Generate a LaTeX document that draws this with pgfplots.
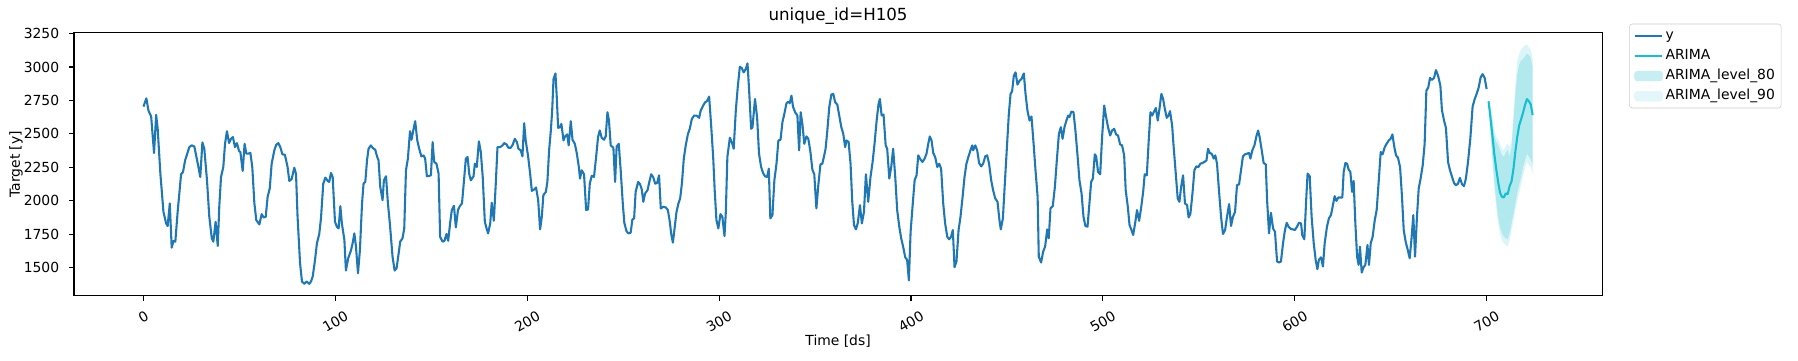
\documentclass[border=0pt]{standalone}
\usepackage{fontspec}
\setmainfont{DejaVu Sans}
\usepackage{graphicx}
\usepackage{pgfplots}
\usepackage{pgfplotstable}
\pgfplotsset{compat=1.18}
\usepgfplotslibrary{fillbetween}
\definecolor{c1}{HTML}{1F77B4}
\definecolor{ccyan}{HTML}{17BECF}
\definecolor{l80}{RGB}{199,238,243}
\definecolor{l90}{RGB}{227,246,249}
\pgfplotsset{
 mylineleg/.style={legend image code/.code={\draw[##1] (0pt,0pt) -- (20pt,0pt);}},
 myarealeg/.style={legend image code/.code={\fill[##1] (0pt,-3.5pt) rectangle (20pt,3.5pt);}},
}
\pgfplotstableread{
t v
0 2704
1.5 2766
2.6 2674
4.0 2630
5.5 2357
6.6 2642
7.4 2538
8.8 2203
10.4 1917
11.8 1830
12.6 1811
13.7 1980
14.7 1649
15.6 1699
16.6 1694
17.8 1917
19.6 2198
20.6 2215
21.7 2302
23.9 2401
25.1 2414
26.5 2406
28.3 2277
29.6 2178
30.7 2436
31.7 2389
33.1 2153
34.3 1880
35.6 1719
36.4 1694
37.6 1843
38.7 1662
39.5 1955
40.4 2178
41.6 2252
42.5 2426
43.5 2520
44.6 2431
45.6 2463
46.6 2476
47.7 2401
48.7 2431
49.8 2372
50.5 2364
51.7 2223
52.7 2426
53.6 2352
54.6 2352
55.7 2359
56.7 2252
57.8 1980
58.8 1855
60.4 1823
61.6 1900
62.6 1875
63.7 1880
64.7 2029
65.8 2091
66.8 2277
68.2 2377
69.2 2419
70.3 2431
71.3 2401
72.4 2347
73.7 2344
75.1 2252
76.0 2148
77.2 2161
78.6 2247
79.5 2200
80.3 1880
81.6 1533
82.6 1396
83.8 1379
85.0 1396
86.4 1379
87.3 1396
88.2 1433
89.4 1558
90.4 1682
91.6 1751
92.5 1868
93.7 2128
94.8 2173
96.0 2148
96.8 2141
97.7 2208
98.6 2178
99.8 1843
100.8 1806
101.7 1793
102.6 1960
103.4 1830
104.7 1707
105.5 1478
106.7 1570
108.1 1627
109.0 1682
109.9 1756
110.7 1662
111.8 1458
112.8 1632
113.9 1980
114.7 2128
115.6 2141
116.5 2302
117.3 2389
118.5 2414
119.4 2396
120.8 2381
121.7 2332
122.5 2302
123.4 2104
124.6 2004
125.3 2153
126.4 2183
127.4 1980
128.4 1830
129.8 1582
130.9 1478
131.9 1495
133.0 1607
133.8 1694
135.0 1719
135.9 1793
136.8 2228
137.8 2315
138.9 2520
139.7 2456
140.6 2525
141.6 2595
142.7 2451
143.7 2389
144.8 2332
146.0 2339
146.8 2315
147.7 2183
148.9 2186
149.8 2190
150.7 2439
151.5 2290
152.7 2277
153.8 2203
154.6 1731
155.9 1694
156.9 1701
157.9 1751
158.8 1701
159.9 1843
160.7 1930
161.8 1962
162.8 1801
163.9 1930
164.9 1960
166.0 1980
167.2 2178
168.0 2315
168.9 2327
169.8 2198
170.6 2153
172.0 2183
172.7 2277
173.7 2252
174.8 2444
175.8 2364
176.8 2178
177.9 1843
178.8 1793
179.6 1756
180.7 1830
181.5 1985
182.6 1850
183.6 2128
184.5 2401
185.9 2401
187.1 2414
188.0 2431
189.2 2421
190.2 2396
191.4 2396
192.5 2421
193.5 2463
194.6 2439
195.4 2389
196.6 2377
197.5 2332
198.4 2580
199.2 2451
200.5 2327
201.5 2203
202.4 2074
203.6 2084
204.6 2099
205.7 2004
206.7 1786
207.6 1880
208.4 2042
209.7 2066
210.5 2141
211.4 2377
212.3 2525
213.0 2674
213.7 2910
214.7 2952
215.4 2774
216.1 2545
217.1 2550
217.8 2575
218.9 2451
219.7 2481
220.8 2496
221.6 2414
222.7 2595
223.6 2456
224.8 2426
225.8 2357
226.9 2252
227.5 2166
228.4 2228
229.6 2198
230.7 1930
231.7 1935
232.6 2128
233.6 2186
234.8 2178
235.9 2327
236.9 2476
237.8 2525
238.8 2471
240.0 2456
240.9 2481
241.8 2662
242.6 2600
243.5 2414
244.9 2396
245.8 2141
246.6 2406
247.7 2426
248.7 2228
249.8 1980
250.6 1835
251.7 1773
252.7 1756
253.9 1761
254.8 1860
255.7 1868
256.5 2066
257.8 2141
258.8 2123
259.7 2084
260.5 1992
261.4 2054
262.7 2079
263.5 2133
264.6 2198
265.6 2178
266.7 2128
267.7 2133
268.7 2190
269.6 1942
270.8 1955
272.2 1950
273.3 1930
274.3 1843
275.0 1756
275.9 1687
276.7 1781
277.8 1917
278.8 1980
279.7 2017
280.6 2128
281.6 2315
282.6 2414
283.7 2496
284.7 2538
285.8 2612
287.0 2637
288.2 2637
289.6 2620
290.4 2674
291.7 2712
292.7 2736
293.6 2744
294.8 2779
295.8 2575
296.9 2327
297.7 2079
298.6 1855
299.6 1793
300.7 1900
301.7 1880
302.8 1736
303.5 1917
304.3 2327
305.6 2471
306.6 2439
307.6 2389
308.7 2674
309.7 2848
310.8 3002
311.8 2992
312.8 2960
313.9 2985
314.8 3027
315.6 2836
316.7 2538
317.4 2550
318.7 2761
319.8 2625
320.8 2352
321.9 2252
322.9 2208
323.9 2183
325.0 2178
325.9 2240
326.7 1868
327.8 1893
328.8 2153
329.9 2277
330.9 2451
332.0 2456
333.0 2587
334.0 2650
335.1 2729
336.1 2741
336.8 2729
337.7 2786
338.5 2704
339.6 2662
340.8 2637
341.7 2377
342.5 2662
343.4 2575
344.4 2426
345.5 2481
346.5 2463
347.6 2364
348.6 2233
349.6 2198
350.7 1942
351.7 2116
352.8 2272
353.8 2277
354.6 2327
355.5 2389
356.4 2525
357.4 2699
358.5 2794
359.5 2799
360.5 2736
361.6 2719
362.6 2637
363.7 2550
364.7 2501
365.7 2401
366.4 2451
367.5 2439
368.5 2277
369.4 1992
370.3 1818
371.3 1786
372.3 1835
373.4 1967
374.4 1830
375.5 1917
376.5 2198
377.7 1992
378.9 2178
380.0 2290
381.0 2426
382.1 2600
383.1 2724
383.8 2761
384.7 2637
385.7 2645
386.8 2414
387.6 2389
388.7 2166
389.7 2252
390.7 2389
391.8 2178
392.8 1930
393.9 1806
394.9 1719
395.9 1657
397.0 1577
398.0 1558
398.9 1404
399.8 1768
400.8 1955
401.9 2153
402.9 2190
403.8 2339
405.0 2307
406.0 2290
407.1 2315
408.1 2352
409.0 2426
409.8 2481
410.7 2451
411.6 2357
412.6 2327
413.7 2252
414.7 2277
415.7 2240
416.8 1980
417.8 1830
418.9 1731
419.9 1712
420.9 1731
421.8 1781
422.7 1503
423.7 1545
424.8 1781
425.8 1880
426.9 2029
427.9 2178
428.9 2277
430.0 2332
431.0 2377
431.9 2414
432.4 2377
433.5 2414
434.5 2377
435.5 2282
436.6 2257
437.6 2277
438.7 2332
439.7 2339
440.7 2277
441.8 2153
442.8 2079
443.9 2017
445.1 1992
446.1 1855
446.8 1786
447.9 1868
448.9 2128
450.0 2401
451.0 2650
451.9 2799
452.7 2818
453.6 2935
454.5 2960
455.5 2868
456.6 2898
457.6 2910
458.8 2952
459.7 2799
460.7 2674
461.8 2600
462.8 2630
463.9 2426
464.9 2228
466.0 2029
466.6 1582
467.8 1538
468.9 1620
469.9 1657
471.0 1786
471.8 1719
472.7 1942
473.9 1960
475.0 2104
476.0 2302
477.1 2501
478.1 2550
479.0 2463
480.0 2550
481.0 2600
481.9 2637
482.6 2625
483.6 2667
484.7 2662
485.7 2525
486.8 2339
487.8 2153
488.9 2054
489.9 1880
490.9 1811
492.0 1806
493.0 1980
493.9 2141
494.8 2166
495.8 2347
496.5 2332
497.5 2215
498.6 2198
499.6 2476
500.7 2712
501.7 2625
502.7 2550
503.8 2488
504.8 2525
505.9 2538
506.9 2496
507.9 2488
509.0 2421
510.0 2414
511.1 2339
511.9 2079
513.0 1955
513.9 1818
514.9 1781
515.8 1744
516.8 1830
517.8 1930
518.9 1850
519.9 1942
521.0 2066
521.8 2198
522.9 2190
523.9 2451
524.8 2662
525.7 2637
526.5 2662
527.6 2694
528.6 2600
529.5 2687
530.5 2799
531.4 2761
532.3 2687
533.3 2620
534.2 2637
535.0 2670
536.1 2563
536.9 2401
538.0 2203
539.0 2017
539.9 1992
540.8 2104
541.8 2190
542.8 1980
543.9 1967
544.7 1875
545.6 1900
546.7 2054
547.7 2228
548.7 2257
549.8 2252
550.8 2277
551.9 2282
552.9 2290
554.0 2302
554.8 2389
555.7 2357
556.7 2352
557.8 2315
558.6 2339
559.5 2277
560.5 2079
561.6 1880
562.6 1751
563.7 1781
564.7 1880
565.8 1975
566.8 1811
567.8 1880
568.9 1917
569.9 2116
571.0 2123
572.0 2228
573.0 2332
574.1 2347
575.1 2352
576.2 2357
576.9 2315
577.9 2377
579.0 2414
580.0 2481
580.9 2525
581.7 2476
582.8 2377
583.8 2282
584.9 2272
585.6 2004
586.6 1756
587.6 1910
588.7 1793
589.7 1768
590.8 1545
591.8 1538
592.8 1545
593.9 1682
594.9 1781
595.8 1835
596.8 1806
598.0 1788
599.1 1786
600.1 1781
601.2 1806
602.2 1835
603.3 1830
603.9 1744
605.0 1712
606.0 2017
606.7 2203
607.8 2183
608.8 1880
609.9 1682
610.9 1558
611.8 1488
612.6 1558
613.7 1577
614.7 1508
615.6 1682
616.8 1806
617.8 1868
618.9 1893
619.9 1967
620.8 2034
621.7 1999
622.7 2024
623.7 2024
624.8 2024
625.5 2215
626.4 2282
627.3 2277
628.1 2233
629.0 2215
629.9 2066
630.7 2148
631.6 1830
632.5 1582
633.3 1520
634.0 1657
634.9 1463
635.9 1503
636.8 1520
637.9 1669
638.7 1520
639.6 1682
640.6 1731
641.7 1855
642.7 1930
643.8 2153
644.8 2364
645.8 2347
646.9 2401
647.9 2426
649.0 2451
650.0 2463
650.9 2496
651.9 2401
652.8 2339
653.8 2322
654.9 2252
655.9 2029
656.8 1781
657.8 1694
658.9 1632
659.9 1570
660.8 1707
661.8 1893
662.7 1582
663.7 1880
664.6 2091
665.6 2166
666.7 2265
667.7 2426
668.6 2823
669.6 2848
670.5 2918
671.5 2903
672.6 2918
673.6 2977
674.7 2935
675.9 2861
676.7 2679
677.8 2600
678.8 2545
679.9 2290
680.9 2228
681.9 2183
683.0 2133
684.0 2116
685.1 2128
686.1 2171
687.2 2123
688.2 2109
689.2 2166
690.3 2290
691.5 2463
692.7 2704
693.8 2761
694.8 2799
695.8 2843
696.9 2923
697.9 2947
699.0 2918
700.0 2836
}\ydata
\pgfplotstableread{
t mean lo80 hi80 lo90 hi90
701 2744 2744 2744 2744 2744
702 2620 2520 2690 2500 2710
703 2490 2330 2600 2300 2630
704 2350 2150 2490 2100 2520
705 2240 2000 2440 1950 2480
706 2140 1880 2420 1830 2460
707 2060 1800 2380 1750 2420
708 2030 1760 2340 1700 2390
709 2025 1730 2330 1680 2380
710 2055 1720 2360 1665 2410
711 2050 1710 2380 1660 2430
712 2110 1760 2330 1700 2400
713 2145 1830 2400 1780 2450
714 2240 1900 2600 1850 2650
715 2370 1980 2800 1930 2870
716 2480 2060 2950 2000 3050
717 2565 2120 3020 2060 3100
718 2610 2180 3050 2120 3130
719 2660 2250 3060 2190 3150
720 2715 2300 3080 2240 3160
721 2760 2350 3100 2290 3167
722 2745 2330 3090 2270 3150
723 2720 2310 3070 2250 3130
724 2640 2260 3000 2200 3060
}\fc
\begin{document}
\begin{tikzpicture}
\begin{axis}[
 at={(0pt,0pt)}, anchor=south west,
 width=1100.2pt, height=189.4pt, scale only axis,
 xmin=-36.2, xmax=760.2, ymin=1290, ymax=3257,
 xtick={0,100,...,700}, ytick={1500,1750,...,3250},
 tick pos=left, tick align=outside, major tick length=3.5pt,
 tick style={line width=0.8pt, black},
 axis line style={line width=0.8pt},
 scaled ticks=false,
 /pgf/number format/assume math mode=true,
 /pgf/number format/1000 sep={},
 xticklabel={\rotatebox{30}{\pgfmathprintnumber{\tick}}},
 xticklabel style={anchor=north, inner sep=0pt, yshift=-7pt},
 yticklabel style={anchor=east, inner sep=0pt, xshift=-7pt},
 title={unique\_id=H105},
 every axis title/.style={at={(axis description cs:0.5,1.064)}, anchor=center, font=\fontsize{12}{14}\selectfont},
 xlabel={Time [ds]},
 every axis x label/.style={at={(axis description cs:0.5,-0.1737)}, anchor=center},
 ylabel={Target [y]},
 every axis y label/.style={at={(axis description cs:-0.038,0.5)}, anchor=center, rotate=90},
 legend style={at={(1.0177,1.034)}, anchor=north west, draw=black!20, rounded corners=2pt, fill=white,
   inner xsep=3pt, inner ysep=2pt, row sep=1.5pt, font=\normalsize,
   nodes={inner sep=1.5pt, text depth=2.5pt, text height=7.5pt}},
 legend cell align=left,
]
\addplot[name path=hi90, draw=none, forget plot] table[x=t,y=hi90]{\fc};
\addplot[name path=lo90, draw=none, forget plot] table[x=t,y=lo90]{\fc};
\addplot[fill=ccyan, fill opacity=0.15, draw=none, forget plot] fill between[of=hi90 and lo90];
\addplot[name path=hi80, draw=none, forget plot] table[x=t,y=hi80]{\fc};
\addplot[name path=lo80, draw=none, forget plot] table[x=t,y=lo80]{\fc};
\addplot[fill=ccyan, fill opacity=0.22, draw=none, forget plot] fill between[of=hi80 and lo80];
\addplot[c1, line width=1.5pt, line join=round, forget plot] table[x=t,y=v]{\ydata};
\addplot[ccyan, line width=1.5pt, line join=round, forget plot] table[x=t,y=mean]{\fc};
\addlegendimage{mylineleg, c1, line width=1.5pt}
\addlegendentry{y}
\addlegendimage{mylineleg, ccyan, line width=1.5pt}
\addlegendentry{ARIMA}
\addlegendimage{myarealeg, l80}
\addlegendentry{ARIMA\_level\_80}
\addlegendimage{myarealeg, l90}
\addlegendentry{ARIMA\_level\_90}
\end{axis}
\pgfresetboundingbox
\useasboundingbox (-53.3pt,-46.8pt) rectangle (1241.3pt,212.9pt);
\end{tikzpicture}
\end{document}
